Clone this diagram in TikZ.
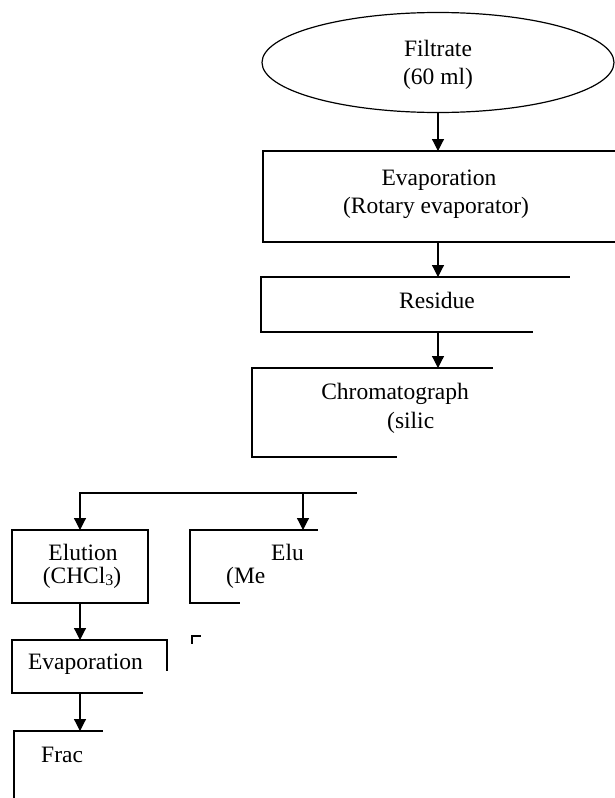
\documentclass[tikz,border=0pt]{standalone}
\usepackage{fontspec}
\setmainfont{Liberation Serif}
\usetikzlibrary{arrows.meta,shapes.geometric}
\tikzset{
  ln/.style={line width=1.2pt,line cap=rect},
  arr/.style={line width=1.2pt,-{Triangle[width=12pt,length=12pt]}},
  shp/.style={rectangle,inner sep=0pt,outer sep=0pt},
  txt/.style={inner sep=0pt,font=\fontsize{23.5}{27}\selectfont,anchor=base},
  txtl/.style={txt,anchor=base west},
}
\begin{document}
\begin{tikzpicture}[x=1pt,y=-1pt]
\useasboundingbox (0,0) rectangle (615,798);
% shapes
\node[ellipse,draw,line width=1.2pt,inner sep=0pt,minimum width=352pt,minimum height=100pt] (filt) at (438,62.5) {};
\node[shp,minimum width=352pt,minimum height=91pt] (evap) at (439,196.5) {};
\node[shp,minimum width=308pt,minimum height=55pt] (res) at (415,304.5) {};
\node[shp,minimum width=240pt,minimum height=89pt] (chrom) at (372,412.5) {};
\node[shp,minimum width=136pt,minimum height=73pt] (elu1) at (80,566.5) {};
\node[shp,minimum width=127pt,minimum height=73pt] (elu2) at (253.5,566.5) {};
\node[shp,minimum width=155pt,minimum height=53pt] (evap2) at (89.5,666.5) {};
\node[shp,minimum width=88pt,minimum height=67pt] (frac) at (58,764.5) {};
% borders
\draw[ln] (evap.north east) -- (evap.north west) -- (evap.south west) -- (evap.south east);
\draw[ln] (res.north east) -- (res.north west) -- (res.south west) -- ([xshift=-37pt]res.south east);
\draw[ln] (chrom.north east) -- (chrom.north west) -- (chrom.south west) -- ([xshift=-96pt]chrom.south east);
\draw[ln] (elu1.north west) rectangle (elu1.south east);
\draw[ln] (elu2.north east) -- (elu2.north west) -- (elu2.south west) -- ([xshift=-78pt]elu2.south east);
\draw[ln] (192,643) -- (192,636) -- (200,636);
\draw[ln] ([yshift=-30pt]evap2.north east) -- (evap2.north east) -- (evap2.north west) -- (evap2.south west) -- ([xshift=-25pt]evap2.south east);
\draw[ln] (frac.north east) -- (frac.north west) -- (frac.south west);
% connectors
\draw[arr] (filt.south) -- (filt.south |- evap.north);
\draw[arr] (filt.south |- evap.south) -- (filt.south |- res.north);
\draw[arr] (filt.south |- res.south) -- (filt.south |- chrom.north);
\coordinate (bl) at (80,493);
\coordinate (bm) at (303,493);
\coordinate (br) at (356,493);
\draw[ln] (bl) -- (br);
\draw[arr] (bl) -- (elu1.north);
\draw[arr] (bm) -- (bm |- elu2.north);
\draw[arr] (elu1.south) -- (elu1.south |- evap2.north);
\draw[arr] (elu1.south |- evap2.south) -- (elu1.south |- frac.north);
% texts
\node[txt] (t1) at (438,56) {Filtrate};
\node[txt] (t2) at (438,84) {(60 ml)};
\node[txt] (t3) at (439,185) {Evaporation};
\node[txt] (t4) at (436,213) {(Rotary evaporator)};
\node[txt] (t5) at (437,308) {Residue};
\node[txt] (t6) at (395,399) {Chromatograph};
\node[txtl] (t7) at (387,428) {(silic};
\node[txt] (t8) at (83,560) {Elution};
\node[txt] (t9) at (82,583) {(CHCl\raisebox{-2pt}{\fontsize{16}{16}\selectfont 3})};
\node[txtl] (t10) at (271,560) {Elu};
\node[txtl] (t11) at (226,583) {(Me};
\node[txt] (t12) at (85.5,669) {Evaporation};
\node[txtl] (t13) at (41,762) {Frac};
\end{tikzpicture}
\end{document}
